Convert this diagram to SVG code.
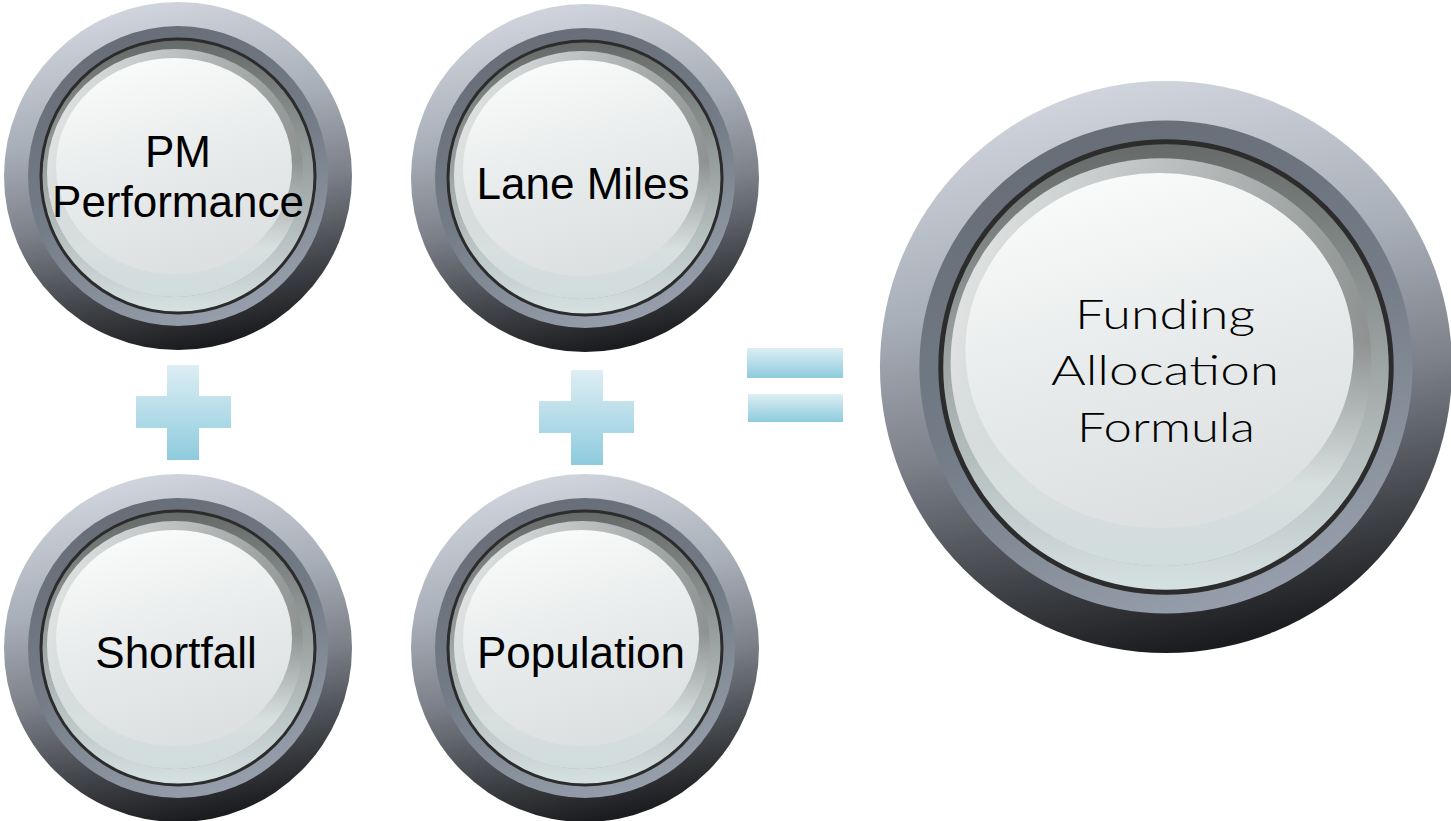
<svg xmlns="http://www.w3.org/2000/svg" xmlns:xlink="http://www.w3.org/1999/xlink" width="1451" height="821" viewBox="0 0 1451 821">
<style>
.lbl{font-family:"Liberation Sans",Arial,sans-serif;font-size:44px;fill:#000;text-anchor:middle}
.big{font-family:Lato,"DejaVu Sans",sans-serif;font-weight:300;font-size:42px;fill:#000;text-anchor:middle}
.op{fill:url(#gOp)}
</style>
<defs>
<linearGradient id="gOuter" x1="0.3" y1="0" x2="0.5" y2="1">
<stop offset="0" stop-color="#d3d8e0"/>
<stop offset="0.35" stop-color="#a9afb8"/>
<stop offset="0.6" stop-color="#7b8089"/>
<stop offset="0.82" stop-color="#44474c"/>
<stop offset="1" stop-color="#1b1c1f"/>
</linearGradient>
<linearGradient id="gMid" x1="0.3" y1="0" x2="0.7" y2="1">
<stop offset="0" stop-color="#666d77"/>
<stop offset="0.5" stop-color="#747c87"/>
<stop offset="1" stop-color="#98a1ad"/>
</linearGradient>
<linearGradient id="gFace" x1="0" y1="0" x2="0" y2="1">
<stop offset="0" stop-color="#656a68"/>
<stop offset="0.45" stop-color="#98a09f"/>
<stop offset="1" stop-color="#d6e1e1"/>
</linearGradient>
<linearGradient id="gGlass" x1="0" y1="0.2" x2="1" y2="0.4">
<stop offset="0" stop-color="#e4e6e6"/>
<stop offset="0.5" stop-color="#b8bcbc"/>
<stop offset="1" stop-color="#8e9392"/>
</linearGradient>
<linearGradient id="gGlassB" x1="0" y1="0" x2="0" y2="1">
<stop offset="0.45" stop-color="#d6dede" stop-opacity="0"/>
<stop offset="0.8" stop-color="#d8dfdf" stop-opacity="1"/>
<stop offset="1" stop-color="#d0dcdc" stop-opacity="1"/>
</linearGradient>
<linearGradient id="gHi" x1="0.2" y1="0" x2="0.5" y2="1">
<stop offset="0" stop-color="#fbfcfc"/>
<stop offset="0.5" stop-color="#e9ecec"/>
<stop offset="1" stop-color="#dde0e1"/>
</linearGradient>
<linearGradient id="gOp" x1="0" y1="0" x2="0" y2="1">
<stop offset="0" stop-color="#ddeef4"/>
<stop offset="1" stop-color="#8ecbdd"/>
</linearGradient>
<g id="btn">
<circle r="174" fill="url(#gOuter)"/>
<circle r="150" fill="url(#gMid)"/>
<circle r="137" fill="url(#gFace)" stroke="#2c2c2c" stroke-width="3"/>
<ellipse cx="-3" cy="-3" rx="128" ry="124" fill="url(#gGlass)"/>
<ellipse cx="-3" cy="-3" rx="128" ry="124" fill="url(#gGlassB)"/>
<ellipse cx="-4" cy="-10" rx="118" ry="108" fill="url(#gHi)"/>
</g>
</defs>

<g id="node-pm">
<use xlink:href="#btn" transform="translate(178,176)"/>
<text class="lbl" x="178" y="167">PM</text>
<text class="lbl" x="178" y="217">Performance</text>
</g>

<g id="node-lane-miles">
<use xlink:href="#btn" transform="translate(585,178)"/>
<text class="lbl" x="583" y="199">Lane Miles</text>
</g>

<g id="node-shortfall">
<use xlink:href="#btn" transform="translate(178,648)"/>
<text class="lbl" x="176" y="668">Shortfall</text>
</g>

<g id="node-population">
<use xlink:href="#btn" transform="translate(585,648)"/>
<text class="lbl" x="581" y="668">Population</text>
</g>

<g id="node-result">
<use xlink:href="#btn" transform="translate(1166,367) scale(1.644)"/>
<text class="big" x="1165" y="329" textLength="180" lengthAdjust="spacingAndGlyphs">Funding</text>
<text class="big" x="1165" y="385" textLength="228" lengthAdjust="spacingAndGlyphs">Allocation</text>
<text class="big" x="1166" y="442" textLength="178" lengthAdjust="spacingAndGlyphs">Formula</text>
</g>

<g id="connectors">
<path class="op" d="M167,365 H199 V396 H231 V428 H199 V460 H167 V428 H136 V396 H167 Z"/>
<path class="op" d="M571,370 H603 V401 H634 V433 H603 V465 H571 V433 H539 V401 H571 Z"/>
<rect class="op" x="747" y="348" width="96" height="30"/>
<rect class="op" x="748" y="394" width="95" height="28"/>
</g>
</svg>
